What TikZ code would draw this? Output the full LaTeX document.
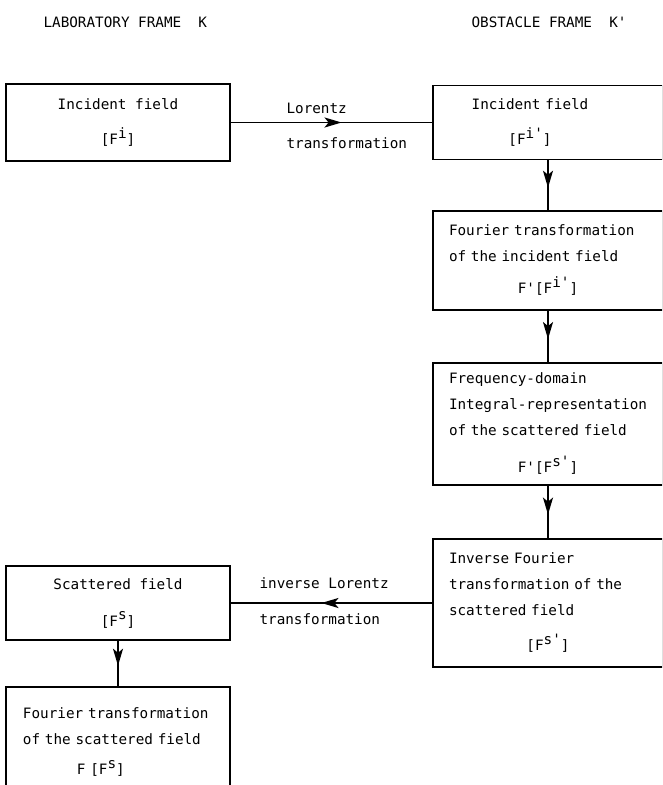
\documentclass[tikz,border=0pt]{standalone}
\usepackage{fontspec}
\setmonofont{DejaVu Sans Mono}
\usetikzlibrary{arrows.meta,positioning,decorations.markings}

\newcommand\upidx[1]{\raisebox{0.45em}{#1}}

\begin{document}
\begin{tikzpicture}[x=1pt,y=-1pt,on grid,
    font=\ttfamily\fontsize{14.3}{26}\selectfont]
  \tikzstyle{block}=[draw,line width=1.8pt,minimum width=224pt,inner sep=0pt]
  \tikzstyle{wide}=[block,minimum width=230pt,text width=198pt,align=left]
  \tikzstyle{flow}=[line width=1.8pt,postaction={decorate},
    decoration={markings,mark=at position 0.55 with
      {\arrow{Stealth[length=17pt 0,width=10pt 0,inset=4pt 0]}}}]

  \clip (0,0) rectangle (662,785);

  % frame headings
  \node[anchor=west] (labHead) at (40,22) {LABORATORY FRAME~~K};
  \node[anchor=west] (obsHead) at (468,22) {OBSTACLE FRAME~~K'};

  \node[block,minimum height=77pt,align=center] (incLab) at (118,122.5)
    {Incident field\\[9pt][F\upidx{i}]};
  \node[block,minimum width=230pt,minimum height=74pt,text width=194pt,align=center] (incObs)
    [right=430pt of incLab] {\hspace*{-36pt}Incident field\\[9pt]\hspace*{-36pt}[F\upidx{i'}]};
  \node[wide,minimum height=99pt] (fourInc) [below=138pt of incObs]
    {Fourier transformation\\of the incident field\\[6pt]\hfill F'[F\upidx{i'}]\hfill\null};
  \node[wide,minimum height=122pt] (freqDom) [below=163.5pt of fourInc]
    {Frequency-domain\\Integral-representation\\of the scattered field\\[11pt]\hfill F'[F\upidx{s'}]\hfill\null};
  \node[wide,minimum height=128pt] (invFour) [below=179pt of freqDom]
    {Inverse Fourier\\transformation of the\\scattered field\\[9pt]\hfill[F\upidx{s'}]\hfill\null};
  \node[block,minimum height=74pt,align=center] (scatLab) [left=430pt of invFour]
    {Scattered field\\[11pt][F\upidx{s}]};
  \node[block,minimum height=110pt,text width=190pt,align=left] (fourScat) [below=139pt of scatLab]
    {Fourier transformation\\of the scattered field\\[4pt]\hspace*{54pt}F [F\upidx{s}]};

  % transformations between the frames
  \draw[flow] (incLab.east) -- (incLab.east -| incObs.west);
  \node[anchor=west] (lorUp) at (283,108) {Lorentz};
  \node[anchor=west] (lorDown) at (283,143) {transformation};

  \draw[flow] (invFour) -- (scatLab);
  \node[anchor=west] (invUp) at (256,583) {inverse Lorentz};
  \node[anchor=west] (invDown) at (256,619) {transformation};

  \draw[flow] (incObs) -- (fourInc);
  \draw[flow] (fourInc) -- (freqDom);
  \draw[flow] (freqDom) -- (invFour);
  \draw[flow] (scatLab) -- (fourScat);
\end{tikzpicture}
\end{document}
